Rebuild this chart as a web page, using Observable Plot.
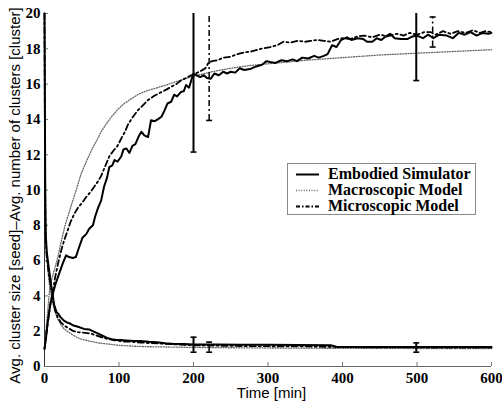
<!DOCTYPE html>
<html><head><meta charset="utf-8">
<script src="https://cdn.jsdelivr.net/npm/d3@7"></script>
<script src="https://cdn.jsdelivr.net/npm/@observablehq/plot@0.6"></script>
<style>
body{margin:0;background:#fff}
#wrap{position:relative;width:502px;height:403px}
#legend{position:absolute;left:287px;top:163px;width:187px;height:50px;border:1px solid #888;background:#fff;font:bold 16px "Liberation Serif",serif;color:#000}
#legend .row{position:absolute;left:0;height:16px;line-height:16px;white-space:nowrap}
#legend svg{position:absolute;left:7px;top:0}
#legend span{position:absolute;left:40px;top:0}
</style></head><body><div id="wrap"></div>
<script>
// ---- data ----
const xTicks = [0, 100, 200, 300, 400, 500, 600];
const yTicks = [0, 2, 4, 6, 8, 10, 12, 14, 16, 18, 20];
const seriesNames = ["Embodied Simulator", "Macroscopic Model", "Microscopic Model"];
const xLabel = "Time [min]";
const yLabel = "Avg. cluster size [seed]\u2013Avg. number of clusters [cluster]";

// number of clusters (rising curves): [time, value]
const embodiedClusters = [[0,1.0],[2,1.6],[4,2.4],[6,3.0],[8,3.6],[11,4.1],[15,4.7],[20,5.3],[25,5.9],[29,6.3],[33,6.2],[38,6.15],[42,6.2],[46,6.7],[51,7.3],[56,7.5],[60,7.8],[65,8.0],[68,8.5],[72,9.0],[76,9.4],[80,10.2],[84,10.7],[87,11.3],[91,11.4],[94,11.7],[98,11.6],[103,11.9],[106,12.3],[110,12.35],[114,12.1],[118,12.5],[122,12.6],[126,13.0],[130,13.3],[134,13.1],[139,13.0],[143,13.95],[148,13.9],[152,14.0],[157,14.15],[161,14.5],[165,14.9],[170,15.0],[174,15.4],[178,15.3],[183,15.55],[187,15.6],[190,15.95],[194,15.8],[197,16.2],[200,16.6],[204,16.5],[209,16.4],[214,16.5],[218,16.35],[223,16.3],[228,16.6],[234,16.5],[240,16.7],[245,16.6],[250,16.7],[256,16.65],[262,16.9],[268,16.8],[276,16.85],[284,17.0],[292,17.1],[298,17.3],[303,17.25],[310,17.2],[318,17.35],[326,17.3],[333,17.4],[339,17.3],[346,17.5],[354,17.45],[362,17.6],[368,17.5],[375,17.6],[380,17.7],[386,18.2],[392,18.1],[398,18.5],[406,18.65],[412,18.5],[420,18.6],[428,18.55],[433,18.4],[440,18.4],[446,18.6],[452,18.5],[458,18.7],[464,18.85],[470,18.6],[478,18.55],[487,18.55],[494,18.7],[500,18.75],[508,18.6],[515,18.8],[522,18.6],[530,18.8],[540,18.75],[548,18.6],[556,18.9],[564,18.8],[572,18.95],[580,18.75],[588,18.9],[596,18.85],[600,18.9]];
const microClusters = [[0,1.0],[3,2.0],[6,3.0],[9,3.8],[11,4.1],[14,5.0],[18,5.8],[22,6.5],[26,7.1],[31,7.7],[35,8.2],[40,8.65],[45,9.0],[51,9.3],[56,9.6],[62,9.9],[67,10.2],[72,10.5],[76,10.8],[81,11.3],[87,11.9],[92,12.2],[98,12.5],[104,13.0],[108,13.3],[112,13.7],[118,14.1],[125,14.5],[132,14.8],[139,15.1],[148,15.35],[157,15.55],[164,15.7],[170,15.85],[177,16.0],[183,16.2],[190,16.35],[197,16.5],[203,16.6],[210,16.75],[216,16.9],[220,17.2],[225,17.3],[232,17.35],[240,17.5],[250,17.55],[259,17.7],[268,17.8],[278,17.85],[290,18.0],[303,18.1],[312,18.2],[321,18.4],[330,18.35],[340,18.45],[350,18.4],[357,18.45],[366,18.5],[375,18.45],[384,18.4],[393,18.55],[400,18.6],[410,18.55],[420,18.7],[429,18.75],[440,18.65],[450,18.8],[460,18.7],[473,18.85],[482,18.75],[490,18.9],[500,18.8],[510,18.95],[518,18.95],[525,18.8],[535,19.0],[545,18.85],[555,19.0],[565,18.9],[575,19.05],[585,18.9],[592,19.0],[600,18.95]];
const macroClusters = [[0,1.0],[2,2.0],[4,3.0],[6.7,4.3],[10,5.0],[14,5.6],[18,6.2],[22,7.0],[27,7.9],[32,8.6],[38,9.4],[44,10.2],[49,10.9],[56,11.6],[63,12.25],[70,12.8],[76,13.3],[83,13.75],[90,14.15],[98,14.55],[107,14.9],[116,15.15],[125,15.4],[136,15.6],[148,15.75],[160,15.9],[170,16.05],[185,16.25],[200,16.45],[225,16.7],[250,16.9],[275,17.05],[300,17.15],[350,17.35],[400,17.5],[450,17.65],[500,17.75],[550,17.85],[600,17.95]];

// cluster size (falling curves): [time, value]
const embodiedSize = [[0,20],[0.5,15],[1,10],[1.5,7.6],[3,6.5],[6,5.5],[9,4.6],[11,4.1],[12.5,3.55],[16,3.1],[19,2.95],[21.5,2.8],[26,2.6],[30,2.5],[35,2.42],[39,2.32],[45,2.25],[53,2.13],[60,2.1],[66,1.98],[70,1.9],[75,1.8],[80,1.7],[84,1.62],[90,1.55],[97,1.5],[102,1.5],[110,1.48],[120,1.45],[129,1.45],[140,1.4],[151,1.38],[162,1.32],[174,1.28],[187,1.27],[200,1.25],[230,1.24],[263,1.23],[300,1.23],[340,1.22],[384,1.2],[392,1.12],[400,1.1],[450,1.1],[500,1.1],[550,1.1],[600,1.1]];
const microSize = [[0,20],[0.5,14],[1,9.5],[1.5,7.2],[3,6.2],[6,5.2],[9,4.4],[11,4.0],[14,3.2],[18,2.75],[22,2.5],[27,2.3],[33,2.15],[39,2.0],[45,1.95],[52,1.92],[62,1.87],[70,1.75],[77,1.65],[84,1.57],[95,1.48],[105,1.42],[117,1.4],[129,1.36],[140,1.33],[155,1.3],[174,1.26],[200,1.2],[230,1.18],[263,1.16],[300,1.15],[350,1.14],[400,1.1],[450,1.08],[500,1.08],[550,1.07],[600,1.07]];
const macroSize = [[0,20],[0.5,13],[1,9.5],[2,7.5],[4,5.6],[7,4.5],[10,3.8],[12.5,3.37],[16,2.85],[21.5,2.4],[27,2.1],[33,1.92],[39,1.76],[46,1.6],[54,1.5],[62,1.42],[73,1.33],[84,1.28],[100,1.2],[120,1.15],[140,1.12],[173,1.1],[220,1.07],[300,1.05],[400,1.03],[500,1.02],[600,1.02]];

// error bars
const errT    = [200, 221, 499, 521, 200, 221, 499];
const errLow  = [12.15, 13.94, 16.2, 18.1, 0.81, 0.81, 0.81];
const errHigh = [20.85, 20.5, 21.1, 19.8, 1.66, 1.38, 1.34];
const errKind = ["sim", "micro", "sim", "micro", "sim", "micro", "sim"];

// ---- styles ----
const solid = {stroke: "#000", strokeWidth: 2};
const dotted = {stroke: "#666", strokeWidth: 1.3, strokeDasharray: "1,1.6"};
const dashdot = {stroke: "#000", strokeWidth: 1.8, strokeDasharray: "6,3,2,3"};

const errs = errT.map((t, i) => ({t, lo: errLow[i], hi: errHigh[i], kind: errKind[i]}));
const errSim = errs.filter(d => d.kind === "sim");
const errMicro = errs.filter(d => d.kind === "micro");
const capHalf = 4;

function errMarks(data, style) {
  return [
    Plot.ruleX(data, {x: "t", y1: "lo", y2: d => Math.min(d.hi, 20), ...style}),
    Plot.link(data, {x1: d => d.t - capHalf, x2: d => d.t + capHalf, y1: "lo", y2: "lo", stroke: "#000", strokeWidth: 1.6}),
    Plot.link(data.filter(d => d.hi <= 20), {x1: d => d.t - capHalf, x2: d => d.t + capHalf, y1: "hi", y2: "hi", stroke: "#000", strokeWidth: 1.6})
  ];
}

const line = (arr, style) => Plot.line(arr, {x: d => d[0], y: d => d[1], curve: "linear", ...style});

const plot = Plot.plot({
  width: 502, height: 403,
  marginLeft: 44, marginRight: 11, marginTop: 13, marginBottom: 37,
  x: {domain: [0, 600]},
  y: {domain: [0, 20]},
  style: {fontFamily: "'Liberation Serif', serif", fontSize: "15px", color: "#000", background: "#fff"},
  marks: [
    Plot.axisX({ticks: xTicks, tickSize: -4, tickPadding: 10, tickFormat: d => String(d), stroke: "#777", fill: "#000", fontWeight: "bold", fontSize: 15, label: null}),
    Plot.axisY({ticks: yTicks, tickSize: -4, tickPadding: 8, tickFormat: d => String(d), stroke: "#777", fill: "#000", fontWeight: "bold", fontSize: 15, label: null}),
    Plot.ruleY([0], {stroke: "#666", strokeWidth: 1}),
    Plot.ruleX([0], {stroke: "#333", strokeWidth: 1}),
    line(macroClusters, dotted),
    line(macroSize, dotted),
    line(microClusters, dashdot),
    line(microSize, dashdot),
    line(embodiedClusters, solid),
    line(embodiedSize, solid),
    ...errMarks(errSim, solid),
    ...errMarks(errMicro, {stroke: "#000", strokeWidth: 1.5, strokeDasharray: "6,3,2,3"}),
    Plot.text([yLabel], {text: d => d, frameAnchor: "left", textAnchor: "middle", lineAnchor: "middle", rotate: -90, dx: -29, dy: 5.5, fontFamily: "'Liberation Sans', Arial, sans-serif", fontSize: 15, fill: "#000"}),
    Plot.text([xLabel], {text: d => d, frameAnchor: "bottom", textAnchor: "middle", lineAnchor: "middle", dx: 3.5, dy: 27, fontFamily: "'Liberation Sans', Arial, sans-serif", fontSize: 15, fill: "#000"})
  ]
});

const wrap = document.getElementById("wrap");
wrap.appendChild(plot);

// legend
const legend = document.createElement("div");
legend.id = "legend";
const legStyles = [
  {stroke: "#000", w: 2, dash: null},
  {stroke: "#666", w: 1.3, dash: "1,1.6"},
  {stroke: "#000", w: 1.8, dash: "4,2,1.5,2"}
];
seriesNames.forEach((name, i) => {
  const row = document.createElement("div");
  row.className = "row";
  row.style.top = (2 + i * 16) + "px";
  row.style.width = "185px";
  const s = legStyles[i];
  row.innerHTML = `<svg width="26" height="16"><line x1="1" x2="24" y1="8.5" y2="8.5" stroke="${s.stroke}" stroke-width="${s.w}" ${s.dash ? `stroke-dasharray="${s.dash}"` : ""}/></svg><span>${name}</span>`;
  legend.appendChild(row);
});
wrap.appendChild(legend);
</script></body></html>
